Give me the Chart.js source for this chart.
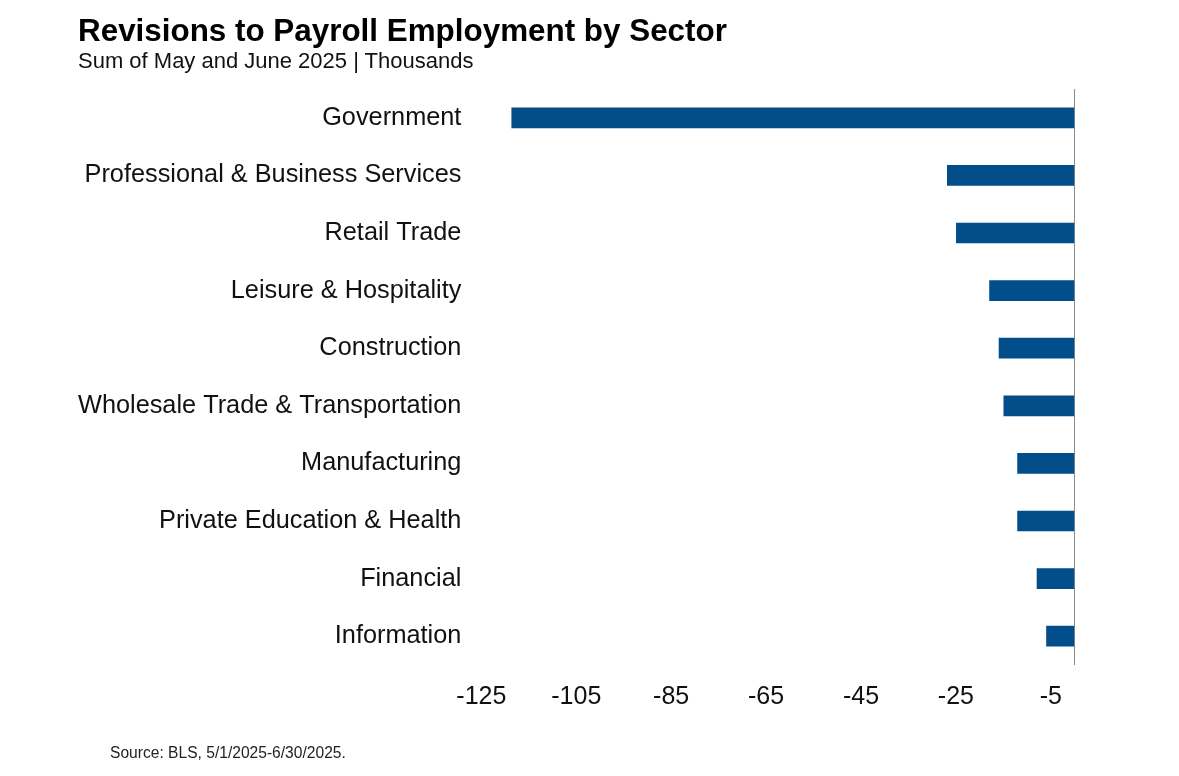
<!DOCTYPE html>
<html>
<head>
<meta charset="utf-8">
<script src="https://cdn.jsdelivr.net/npm/chart.js@4"></script>
<style>
  body { margin: 0; background: #fff; font-family: "Liberation Sans", Arial, sans-serif; }
  #wrap { position: relative; width: 1179px; height: 776px; }
  #title { position: absolute; left: 78px; top: 15px; font-size: 31.4px; line-height: 31px; font-weight: bold; color: #000; white-space: nowrap; }
  #subtitle { position: absolute; left: 78px; top: 50px; font-size: 22px; line-height: 22px; color: #111; white-space: nowrap; }
  #source { position: absolute; left: 110px; top: 745px; font-size: 15.6px; line-height: 15px; color: #222; white-space: nowrap; }
  #graph { position: absolute; left: 0; top: 0; }
</style>
</head>
<body>
<div id="wrap">
  <canvas id="graph" width="1179" height="776"></canvas>
  <div id="title">Revisions to Payroll Employment by Sector</div>
  <div id="subtitle">Sum of May and June 2025 | Thousands</div>
  <div id="source">Source: BLS, 5/1/2025-6/30/2025.</div>
</div>
<script>
var sectors = [
  'Government',
  'Professional & Business Services',
  'Retail Trade',
  'Leisure & Hospitality',
  'Construction',
  'Wholesale Trade & Transportation',
  'Manufacturing',
  'Private Education & Health',
  'Financial',
  'Information'
];
var revisions = [-118.6, -26.8, -24.9, -17.9, -15.9, -14.9, -12.0, -12.0, -7.9, -5.9];
var xTicks = [-125, -105, -85, -65, -45, -25, -5];

  const data = {
    labels: sectors,
    datasets: [
      {
      label: 'Revisions',
      backgroundColor: '#024e8a',
      borderWidth: 0,
      barThickness: 20,
      data: revisions,
    }
    ]
  };

  const config = {
    type: 'bar',
    data: data,
    options: {
      indexAxis: 'y',
      responsive: false,
      animation: false,
      layout: {
        // chart.js counts tick padding twice in the axis size
        padding: { left: 58, right: 104.5, top: 89, bottom: 47 }
      },
      plugins: {
        legend: { display: false },
        tooltip: { enabled: false }
      },
      scales: {
        x: {
          min: -125,
          max: 0,
          afterBuildTicks: function (scale) {
            // fixed tick marks, plus 0 for the axis line
            scale.ticks = xTicks.concat([0]).map(function (v) { return { value: v }; });
          },
          border: { display: false },
          grid: {
            drawTicks: false,
            color: function (ctx) {
              return ctx.tick && ctx.tick.value === 0 ? '#8a8a8a' : 'rgba(0,0,0,0)';
            },
            lineWidth: 1
          },
          ticks: {
            padding: 17,
            color: '#111',
            font: { family: '"Liberation Sans", Arial, sans-serif', size: 25 },
            callback: function (v) { return v === 0 ? '' : v; }
          }
        },
        y: {
          border: { display: false },
          grid: { display: false, drawTicks: false },
          ticks: {
            padding: 20,
            color: '#111',
            font: { family: '"Liberation Sans", Arial, sans-serif', size: 25.3 }
          }
        }
      }
    }
  };

  var myChart = new Chart(document.getElementById('graph'), config);
</script>
</body>
</html>
